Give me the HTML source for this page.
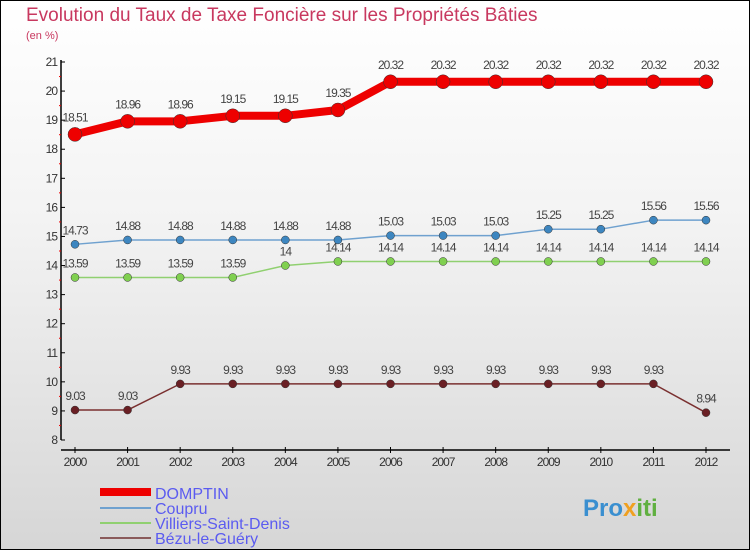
<!DOCTYPE html>
<html><head><meta charset="utf-8"><style>
body{margin:0}
#c{width:750px;height:550px;position:relative;box-sizing:border-box;border:1px solid #000;background:linear-gradient(#ffffff,#f3f3f3 40%,#d6d6d6);font-family:"Liberation Sans",sans-serif;overflow:hidden}
</style></head><body>
<div id="c">
<svg id="s" width="750" height="550" style="position:absolute;left:-1px;top:-1px">
<text x="26" y="21" font-size="19" fill="#c8385f">Evolution du Taux de Taxe Foncière sur les Propriétés Bâties</text>
<text x="26" y="39" font-size="11" fill="#c8385f">(en %)</text>
<g id="axes"></g><g id="series"></g>
<g>
<rect x="100" y="488" width="51" height="8" fill="#e00"/>
<text x="155" y="499" font-size="16" fill="#5b5bf0">DOMPTIN</text>
<rect x="100" y="507" width="51" height="2" fill="#6fa1cf"/>
<text x="155" y="514" font-size="16" fill="#5b5bf0">Coupru</text>
<rect x="100" y="522" width="51" height="2" fill="#90d070"/>
<text x="155" y="529" font-size="16" fill="#5b5bf0">Villiers-Saint-Denis</text>
<rect x="100" y="537" width="51" height="2" fill="#8a5a5a"/>
<text x="155" y="544" font-size="16" fill="#5b5bf0">Bézu-le-Guéry</text>
</g>
<text x="583" y="516" font-size="24" font-weight="bold" fill="#3a8fd0">Pro<tspan fill="#f0a020">x</tspan><tspan fill="#60b040">iti</tspan></text>
</svg>
</div>
<script>
const years=[2000,2001,2002,2003,2004,2005,2006,2007,2008,2009,2010,2011,2012];
const domptin=[18.51,18.96,18.96,19.15,19.15,19.35,20.32,20.32,20.32,20.32,20.32,20.32,20.32];
const coupru=[14.73,14.88,14.88,14.88,14.88,14.88,15.03,15.03,15.03,15.25,15.25,15.56,15.56];
const villiers=[13.59,13.59,13.59,13.59,14,14.14,14.14,14.14,14.14,14.14,14.14,14.14,14.14];
const bezu=[9.03,9.03,9.93,9.93,9.93,9.93,9.93,9.93,9.93,9.93,9.93,9.93,8.94];
const yTicks=[8,9,10,11,12,13,14,15,16,17,18,19,20,21];
const NS="http://www.w3.org/2000/svg";
const X=i=>75+i*(706-75)/(years.length-1);
const Y=v=>440-(v-8)*(440-62)/13;
function mk(t,a,p){const e=document.createElementNS(NS,t);for(const k in a)e.setAttribute(k,a[k]);p.appendChild(e);return e;}
const ax=document.getElementById('axes'),sr=document.getElementById('series');
let e=mk('line',{x1:61,y1:60,x2:61,y2:440,stroke:'#000','stroke-width':1.5},ax);


e=mk('line',{x1:61,y1:450,x2:730,y2:450,stroke:'#000','stroke-width':1.5},ax);


yTicks.forEach(v=>{
 mk('line',{x1:61,y1:Y(v),x2:65,y2:Y(v),stroke:'#000'},ax);
 if(v<21)mk('line',{x1:59,y1:Y(v+0.5),x2:61,y2:Y(v+0.5),stroke:'#e00'},ax);
 const t=mk('text',{x:57,y:Y(v)+4,'font-size':12,fill:'#333','text-anchor':'end','letter-spacing':'-1'},ax);
 t.textContent=v;
 
 
});
years.forEach((y,i)=>{
 mk('line',{x1:X(i),y1:447,x2:X(i),y2:453,stroke:'#000'},ax);
 const t=mk('text',{x:X(i),y:466,'font-size':12,fill:'#333','text-anchor':'middle','letter-spacing':'-1'},ax);
 t.textContent=y;
 
 
});
function series(d,col,w,r,dot,name){
 const p=mk('polyline',{points:d.map((v,i)=>X(i)+','+Y(v)).join(' '),fill:'none',stroke:col,'stroke-width':w,'stroke-linejoin':'round'},sr);
 
 
 d.forEach((v,i)=>{
  const c=mk('circle',{cx:X(i),cy:Y(v),r:r,fill:dot,stroke:'#333','stroke-width':0.5},sr);
  
  
  const t=mk('text',{x:X(i),y:Y(v)-(r+6),'font-size':12,fill:'#444','text-anchor':'middle','letter-spacing':'-1'},sr);
  t.textContent=v;
  
  
 });
}
series(bezu,'#7a3030',1.5,4,'#6a1f24','bezu');
series(villiers,'#90d070',1.5,4,'#80d050','villiers');
series(coupru,'#6fa1cf',1.5,4,'#3d86c0','coupru');
series(domptin,'#e00',8,7,'#e00','domptin');
</script>
</body></html>
